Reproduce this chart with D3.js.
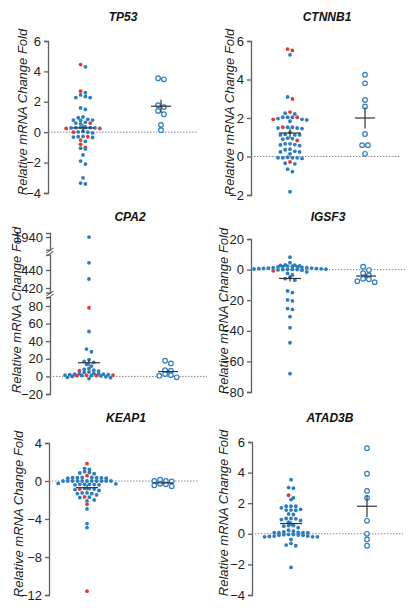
<!DOCTYPE html>
<html><head><meta charset="utf-8">
<script src="https://cdn.jsdelivr.net/npm/d3@7"></script>
<style>body{margin:0;background:#fff}svg{display:block}text{font-family:"Liberation Sans",Arial,sans-serif}</style>
</head><body>
<script>
// ---------- DATA ----------
const genes = ["TP53", "CTNNB1", "CPA2", "IGSF3", "KEAP1", "ATAD3B"];
const yLabel = "Relative mRNA Change Fold";

const tp53Blue = [4.3, 2.6, 2.45, 2.35, 2.28, 2.28, 1.6, 1.5, 1.0, 0.95, 0.85, 0.8, 0.8, 0.78, 0.65, 0.6, 0.55, 0.35, 0.32, 0.3, 0.3, 0.3, 0.28, 0.28, 0.05, 0.02, 0.0, -0.05, -0.28, -0.32, -0.35, -0.3, -0.6, -1.05, -1.1, -1.5, -1.9, -2.1, -3.0, -3.35, -3.4];
const tp53Red = [4.45, 2.7, 0.6, 0.25, 0.25, 0.0, -0.3, -0.52, -0.8, -1.0];
const tp53Ctrl = [3.55, 3.48, 1.78, 1.65, 1.4, 1.18, 0.48, 0.13];
const tp53Mean = [0.28, 1.71];
const tp53Sem = [0.25, 0.43];
const tp53Ticks = [-4, -2, 0, 2, 4, 6];

const ctnnb1Blue = [5.28, 3.09, 2.25, 2.21, 2.04, 2.04, 2.04, 1.97, 1.93, 1.9, 1.83, 1.52, 1.52, 1.48, 1.48, 1.45, 1.25, 1.15, 1.12, 1.12, 1.12, 0.95, 0.93, 0.9, 0.66, 0.66, 0.62, 0.6, 0.56, 0.38, 0.35, 0.27, 0.24, 0.24, 0.14, -0.04, -0.07, -0.07, -0.07, -0.07, -0.1, -0.35, -0.38, -0.66, -0.79, -1.83];
const ctnnb1Red = [5.58, 5.51, 2.99, 2.31, 2.04, 1.93, 1.52, 0.83, -0.28];
const ctnnb1Ctrl = [4.25, 3.8, 2.94, 2.6, 1.17, 0.59, 0.59, 0.14];
const ctnnb1Mean = [1.22, 2.0];
const ctnnb1Sem = [0.25, 0.55];
const ctnnb1Ticks = [-2, 0, 2, 4, 6];

const cpa2Blue = [1940, 448, 430, 51, 31, 28, 19, 17, 16, 13.6, 11.7, 9, 8, 7, 6, 5, 4.5, 3.5, 3, 3, 2.5, 2.5, 2, 2, 1.5, 1, 1, 0.5, 0, -0.5, -1, -1.5, -2.5];
const cpa2Red = [78, 6.5, 1.5, 1.2, 0.8, 0.8];
const cpa2Ctrl = [17.8, 14.8, 7, 6.5, 2.6, 1.5, 0.8, -1];
const cpa2Mean = [15.5, 5.5];
const cpa2Sem = [3.5, 2.0];
const cpa2TicksLow = [-20, 0, 20, 40, 60, 80];
const cpa2TicksMid = [420, 440];
const cpa2TicksTop = [1940];

const igsf3Blue = [8.1, 4.5, 3.0, 2.9, 2.7, 2.5, 2.3, 2.2, 2.0, 1.8, 1.7, 1.5, 1.3, 1.2, 1.0, 1.0, 0.8, 0.7, 0.6, 0.5, 0.4, 0.3, 0.2, 0.1, 0, 0, -0.2, -0.4, -1.5, -2.5, -3.5, -5.0, -5.9, -6.9, -14, -15, -19.8, -20.5, -25.5, -26, -30.8, -38, -47.8, -68];
const igsf3Red = [-0.8];
const igsf3Ctrl = [1.9, -0.3, -2.3, -3.8, -6.0, -6.3, -7.6, -8.2];
const igsf3Mean = [-5.8, -4.2];
const igsf3Sem = [1.9, 1.2];
const igsf3Ticks = [-80, -60, -40, -20, 0, 20];

const keap1Blue = [1.33, 1.23, 0.98, 0.9, 0.84, 0.77, 0.38, 0.38, 0.36, 0.35, 0.35, 0.32, 0.3, 0.3, 0, 0, 0, 0, 0, 0, 0, 0, 0, 0, 0, -0.25, -0.3, -0.35, -0.35, -0.35, -0.38, -0.4, -0.4, -0.77, -0.8, -0.85, -0.9, -1.0, -1.26, -1.26, -1.33, -1.33, -1.47, -1.7, -1.75, -2.0, -2.1, -2.94, -4.48, -4.9];
const keap1Red = [1.82, 0.56, -0.84, -1.68, -2.45, -11.6];
const keap1Ctrl = [0.14, 0.0, 0.0, -0.04, -0.28, -0.35, -0.45, -0.56];
const keap1Mean = [-0.7, -0.2];
const keap1Sem = [0.3, 0.08];
const keap1Ticks = [-12, -8, -4, 0, 4];

const atad3bBlue = [3.54, 3.02, 2.98, 2.35, 2.24, 1.8, 1.8, 1.8, 1.7, 1.6, 1.55, 1.55, 1.54, 1.3, 1.26, 1.0, 1.0, 0.98, 0.93, 0.87, 0.76, 0.56, 0.54, 0.54, 0.5, 0.4, 0.24, 0.17, 0.13, 0.07, 0.07, 0.07, 0.07, 0.09, -0.04, -0.06, -0.08, -0.1, -0.15, -0.17, -0.2, -0.2, -0.2, -0.15, -0.1, -0.05, -0.37, -0.63, -0.74, -0.78, -2.2];
const atad3bRed = [2.52];
const atad3bCtrl = [5.59, 3.93, 2.8, 2.35, 0.85, 0.0, -0.37, -0.78];
const atad3bMean = [0.67, 1.8];
const atad3bSem = [0.15, 0.72];
const atad3bTicks = [-4, -2, 0, 2, 4, 6];

// ---------- LAYOUT ----------
const BLUE = "#2a7dc1", RED = "#e8372c", AX = "#606060", INK = "#222";
const svg = d3.select("body").append("svg").attr("width", 416).attr("height", 612);

const panels = [
  {gene: genes[0], blue: tp53Blue, red: tp53Red, ctrl: tp53Ctrl, mean: tp53Mean, sem: tp53Sem,
   segs: [{dom: [-4, 6], rng: [193, 41], ticks: tp53Ticks}],
   ax: 48, g1: 83, g2: 161, zEnd: 198, tx: 123, ty: 21, lx: 22, ly: 112},
  {gene: genes[1], blue: ctnnb1Blue, red: ctnnb1Red, ctrl: ctnnb1Ctrl, mean: ctnnb1Mean, sem: ctnnb1Sem,
   segs: [{dom: [-2, 6], rng: [195, 41], ticks: ctnnb1Ticks}],
   ax: 251, g1: 290, g2: 365, zEnd: 401, tx: 327, ty: 21, lx: 229, ly: 112},
  {gene: genes[2], blue: cpa2Blue, red: cpa2Red, ctrl: cpa2Ctrl, mean: cpa2Mean, sem: cpa2Sem,
   segs: [{dom: [-20, 90], rng: [394, 297.2], ticks: cpa2TicksLow},
          {dom: [415, 457], rng: [292.5, 254.7], ticks: cpa2TicksMid},
          {dom: [1926, 1944.5], rng: [249.6, 233], ticks: cpa2TicksTop}],
   breaks: [295, 252],
   ax: 50, g1: 89, g2: 168, zEnd: 207, tx: 130, ty: 221, lx: 16, ly: 310},
  {gene: genes[3], blue: igsf3Blue, red: igsf3Red, ctrl: igsf3Ctrl, mean: igsf3Mean, sem: igsf3Sem,
   segs: [{dom: [-80, 20], rng: [392, 239], ticks: igsf3Ticks}],
   ax: 251, g1: 290, g2: 366, zEnd: 405, tx: 328, ty: 221, lx: 223, ly: 311},
  {gene: genes[4], blue: keap1Blue, red: keap1Red, ctrl: keap1Ctrl, mean: keap1Mean, sem: keap1Sem,
   segs: [{dom: [-12, 4], rng: [595, 443], ticks: keap1Ticks}],
   ax: 49, g1: 87, g2: 163, zEnd: 199, tx: 126, ty: 422, lx: 18, ly: 514},
  {gene: genes[5], blue: atad3bBlue, red: atad3bRed, ctrl: atad3bCtrl, mean: atad3bMean, sem: atad3bSem,
   segs: [{dom: [-4, 6], rng: [595, 442], ticks: atad3bTicks}],
   ax: 252, g1: 291, g2: 367, zEnd: 403, tx: 330, ty: 422, lx: 223, ly: 513}
];

// row-based scatter (points with close values share a row, spread symmetrically)
function rowSwarm(items, yFn, cx, s, h) {
  const pts = items.map(it => ({...it, y: yFn(it.v)})).sort((a, b) => a.y - b.y);
  const rows = [];
  let cur = null;
  for (const p of pts) {
    if (!cur || p.y - cur.y0 > h) { cur = {y0: p.y, m: []}; rows.push(cur); }
    cur.m.push(p);
  }
  rows.forEach(r => {
    const n = r.m.length;
    // order slots from centre outward
    const slots = d3.range(n).map(i => (i - (n - 1) / 2) * s)
      .sort((a, b) => Math.abs(a) - Math.abs(b) || a - b);
    // interleave so row members alternate left / right
    r.m.forEach((p, i) => { p.x = cx + slots[i]; });
  });
  return pts;
}

panels.forEach(P => {
  const g = svg.append("g");
  const scales = P.segs.map(s => d3.scaleLinear().domain(s.dom).range(s.rng));
  const yFn = v => {
    for (let i = 0; i < P.segs.length; i++) {
      const s = P.segs[i];
      if (v >= s.dom[0] && v <= s.dom[1]) return scales[i](v);
    }
    return scales[0](v);
  };

  P.segs.forEach((s, i) => {
    const a = g.append("g").attr("transform", `translate(${P.ax},0)`)
      .call(d3.axisLeft(scales[i]).tickValues(s.ticks).tickSizeOuter(0).tickSize(4).tickPadding(3).tickFormat(d3.format("d")));
    a.select(".domain").attr("stroke", AX).attr("stroke-width", 1.3);
    a.selectAll(".tick line").attr("stroke", AX).attr("stroke-width", 1.3);
    a.selectAll(".tick text").attr("fill", INK).style("font-size", "13px");
  });
  (P.breaks || []).forEach(by => {
    [-1.6, 1.6].forEach(o => {
      g.append("line").attr("x1", P.ax - 3.5).attr("x2", P.ax + 3.5)
        .attr("y1", by + o + 2.5).attr("y2", by + o - 2.5)
        .attr("stroke", AX).attr("stroke-width", 1.1);
    });
  });

  g.append("line").attr("x1", P.ax).attr("x2", P.zEnd)
    .attr("y1", yFn(0)).attr("y2", yFn(0))
    .attr("stroke", "#8a8a8a").attr("stroke-width", 1).attr("stroke-dasharray", "1.5,1.5");

  g.append("text").attr("x", P.tx).attr("y", P.ty).attr("text-anchor", "middle")
    .style("font-size", "12px").style("font-weight", "bold").style("font-style", "italic")
    .attr("fill", "#111").text(P.gene);
  g.append("text").attr("transform", `translate(${P.lx},${P.ly}) rotate(-90)`)
    .attr("text-anchor", "middle").attr("dy", "0.35em")
    .style("font-size", "13px").style("font-style", "italic").attr("fill", INK).text(yLabel);

  const items1 = P.blue.map(v => ({v, c: BLUE})).concat(P.red.map(v => ({v, c: RED})));
  const s1 = rowSwarm(items1, yFn, P.g1, 4.8, 3.2);
  g.selectAll(null).data(s1).join("circle")
    .attr("cx", d => d.x).attr("cy", d => d.y).attr("r", 1.9).attr("fill", d => d.c);

  const s2 = rowSwarm(P.ctrl.map(v => ({v})), yFn, P.g2, 5.8, 3.5);
  g.selectAll(null).data(s2).join("circle")
    .attr("cx", d => d.x).attr("cy", d => d.y).attr("r", 2.3)
    .attr("fill", "#fff").attr("stroke", BLUE).attr("stroke-width", 1.2);

  [[P.g1, 11], [P.g2, 10]].forEach(([cx, hw], i) => {
    const m = P.mean[i], se = P.sem[i];
    g.append("line").attr("x1", cx - hw).attr("x2", cx + hw)
      .attr("y1", yFn(m)).attr("y2", yFn(m)).attr("stroke", "#333").attr("stroke-width", 1.2);
    g.append("line").attr("x1", cx).attr("x2", cx)
      .attr("y1", yFn(m - se)).attr("y2", yFn(m + se)).attr("stroke", "#333").attr("stroke-width", 1.2);
  });
});
</script>
</body></html>
